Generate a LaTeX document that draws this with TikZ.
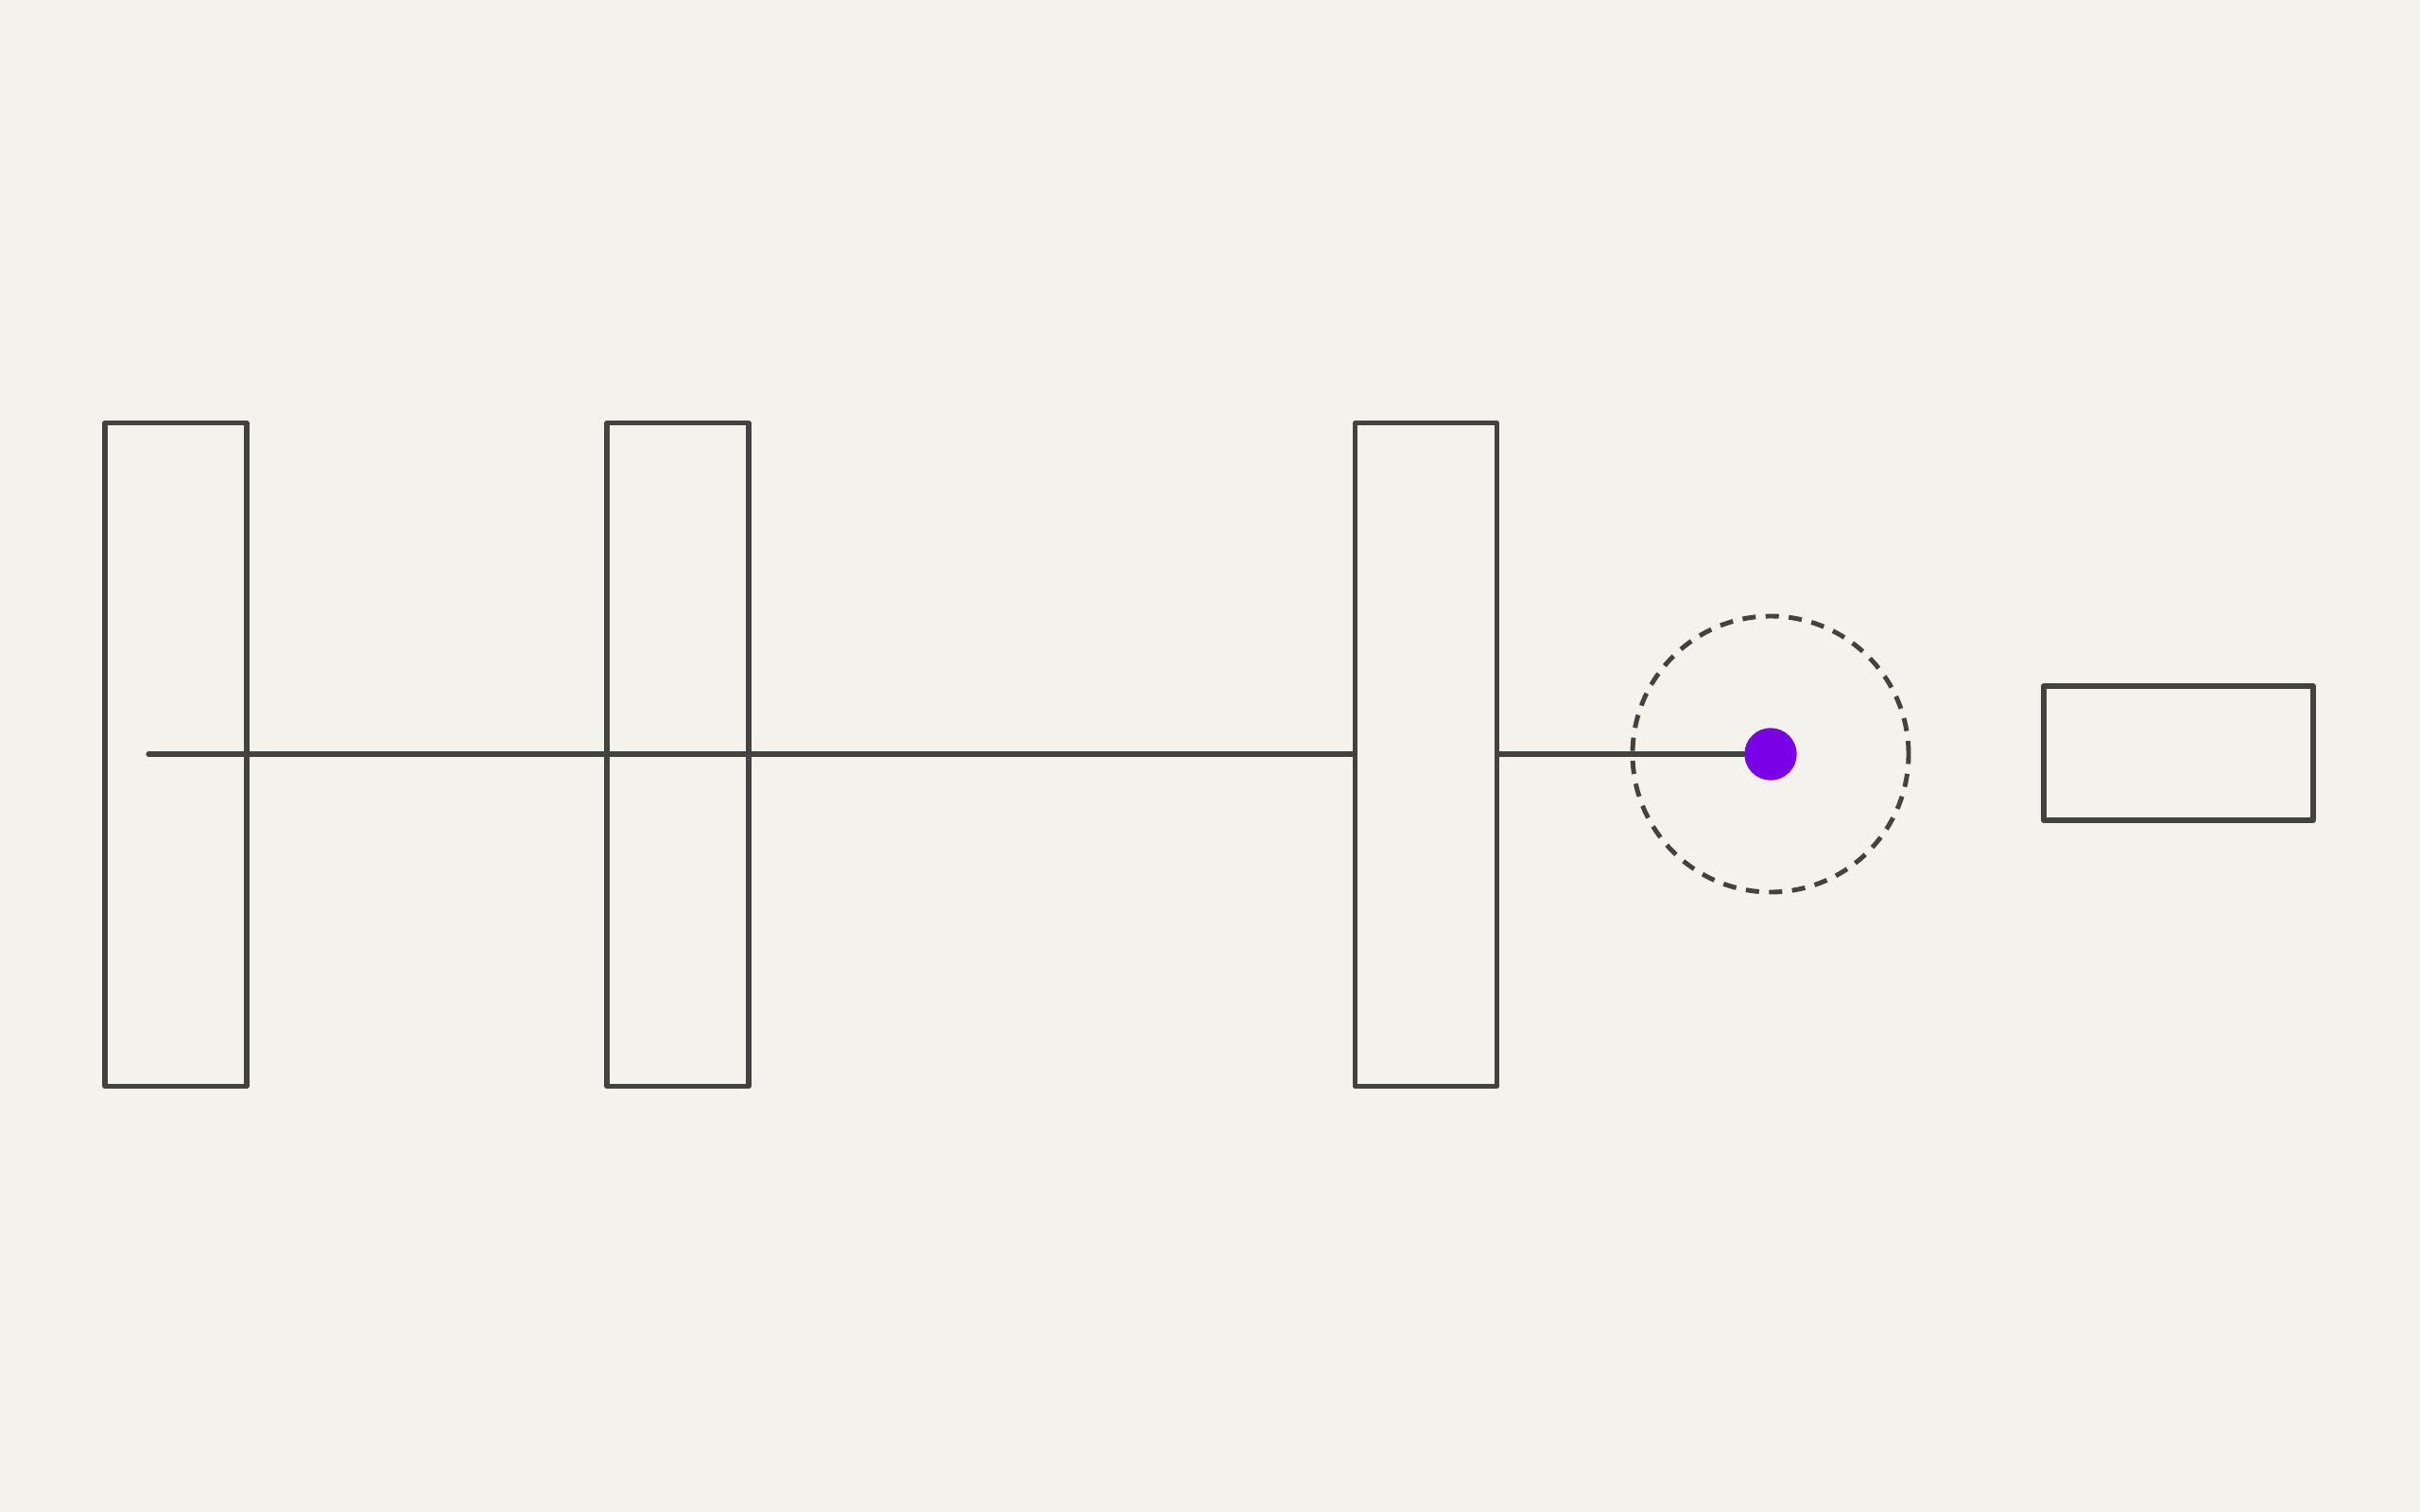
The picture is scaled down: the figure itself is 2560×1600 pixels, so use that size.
\documentclass[tikz,border=0pt]{standalone}
\definecolor{bg}{HTML}{F3F2EC}
\definecolor{ink}{HTML}{424340}
\definecolor{dotc}{HTML}{7A00E6}
\tikzset{
  px/.style={x=0.01cm,y=-0.01cm},
  bar/.style={draw=ink,line width=1.45pt,line join=round,rectangle,inner sep=0pt,minimum width=150\pxu,minimum height=702\pxu},
  barfilled/.style={bar,fill=bg},
  sidebox/.style={draw=ink,line width=1.45pt,line join=round,rectangle,inner sep=0pt,minimum width=285\pxu,minimum height=142\pxu},
  axis/.style={draw=ink,line width=1.45pt,line cap=round},
  ring/.style={draw=ink,line width=1.4pt,dash pattern=on 0.14cm off 0.105cm,circle,inner sep=0pt,minimum size=292\pxu},
  bead/.style={fill=dotc,circle,inner sep=0pt,minimum size=55\pxu}
}
\newcommand{\pxu}{*0.01cm}
\begin{document}
\begin{tikzpicture}[px]
\fill[bg] (0,0) rectangle (2560,1600);
\useasboundingbox (0,0) rectangle (2560,1600);
\node[bar] (b1) at (186,798.5) {};
\node[bar] (b2) at (717,798.5) {};
\coordinate (start) at (157,798);
\node[bead] (dot) at (1873,798) {};
\draw[axis] (start) -- (dot.west);
\node[barfilled] (b3) at (1508.5,798.5) {};
\node[ring] (ring) at (1873,798) {};
\node[bead] at (dot) {};
\node[sidebox] (rb) at (2304.5,797) {};
\end{tikzpicture}
\end{document}
